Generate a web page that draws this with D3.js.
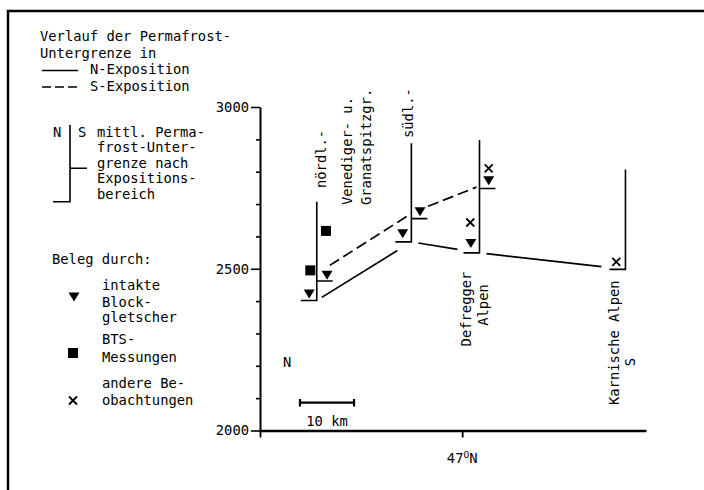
<!DOCTYPE html>
<html lang="de">
<head>
<meta charset="UTF-8">
<title>Verlauf der Permafrost-Untergrenze</title>
<script src="https://cdn.jsdelivr.net/npm/d3@7.8.5/dist/d3.min.js"></script>
<style>
  body { margin: 0; background: #fff; }
  svg { display: block; }
  text { font-family: "DejaVu Sans Mono", monospace; font-size: 13.8px; fill: #000; }
</style>
</head>
<body>
<svg id="chart" width="704" height="490"></svg>
<script>
// x = distance from 47°N in km (positive = south), y = elevation in m
const yMajor = [2000, 2500, 3000];
const yMinor = [2100, 2200, 2300, 2400, 2600, 2700, 2800, 2900];

// profiles (N | S brackets)
const profileKm   = [-26.9, -9.4, 3.2, 30.2];
const profileTop  = [2707, 2888, 2898, 2807];
const limitN      = [2402, 2583, 2549, 2498];
const limitS      = [2462, 2655, 2748, null];

// lower limit lines
const lineNKm   = [-26.9, -9.4, 3.2, 30.2];
const lineNElev = [2402, 2583, 2549, 2498];
const lineSKm   = [-26.9, -8.9, 3.2];
const lineSElev = [2485, 2676, 2756];

// evidence
const rockKm   = [-28.3, -25.0, -11.0, -7.8, 1.6, 4.9];
const rockElev = [2422, 2480, 2608, 2676, 2578, 2772];
const btsKm    = [-28.1, -25.2];
const btsElev  = [2495, 2617];
const otherKm   = [1.5, 4.9, 28.5];
const otherElev = [2643, 2810, 2521];

const svg = d3.select("#chart");
const x = d3.scaleLinear().domain([-37.4, 34]).range([260, 646]);
const y = d3.scaleLinear().domain([2000, 3000]).range([430.5, 107]);

// frame
svg.append("path").attr("d", "M8,492V11H706")
  .attr("fill", "none").attr("stroke", "#000").attr("stroke-width", 2.5);

// legend text
function lines(x0, ys, strs) {
  strs.forEach((s, i) => svg.append("text").attr("x", x0).attr("y", ys[i]).text(s));
}
lines(40, [41, 57.5], ["Verlauf der Permafrost-", "Untergrenze in"]);
lines(90, [74, 90.5], ["N-Exposition", "S-Exposition"]);
svg.append("line").attr("x1", 42).attr("x2", 78).attr("y1", 70.5).attr("y2", 70.5)
  .attr("stroke", "#000").attr("stroke-width", 1.6);
svg.append("line").attr("x1", 42).attr("x2", 80).attr("y1", 87).attr("y2", 87)
  .attr("stroke", "#000").attr("stroke-width", 1.6).attr("stroke-dasharray", "9,4");

svg.append("text").attr("x", 53).attr("y", 136.5).text("N");
svg.append("text").attr("x", 78).attr("y", 136.5).text("S");
svg.append("path").attr("d", "M53,201.7H70V125M70,168.3H87")
  .attr("fill", "none").attr("stroke", "#000").attr("stroke-width", 1.6);
lines(97, [136.5, 152, 167.7, 183.3, 199],
  ["mittl. Perma-", "frost-Unter-", "grenze nach", "Expositions-", "bereich"]);

lines(52, [264], ["Beleg durch:"]);
lines(102, [290, 306.5, 322], ["intakte", "Block-", "gletscher"]);
lines(102, [344, 361.5], ["BTS-", "Messungen"]);
lines(102, [388, 404.5], ["andere Be-", "obachtungen"]);

const tri = "M-5.5,-4.5L5.5,-4.5L0,4.5Z";
svg.append("path").attr("d", tri).attr("transform", "translate(74,297)");
svg.append("rect").attr("x", 68).attr("y", 348).attr("width", 10).attr("height", 10);
function cross(g, cx, cy) {
  g.append("path").attr("d", `M${cx-4},${cy-4}L${cx+4},${cy+4}M${cx+4},${cy-4}L${cx-4},${cy+4}`)
    .attr("stroke", "#000").attr("stroke-width", 1.8);
}
cross(svg, 73, 400.5);

// axes
const yAxis = svg.append("g").attr("transform", "translate(260,0)")
  .call(d3.axisLeft(y).tickValues(yMajor).tickSize(9).tickSizeOuter(0).tickPadding(2).tickFormat(d3.format("d")));
svg.append("g").attr("transform", "translate(260,0)")
  .call(d3.axisLeft(y).tickValues(yMinor).tickSize(4).tickSizeOuter(0).tickFormat(""))
  .select(".domain").remove();
yAxis.select(".domain").attr("stroke-width", 2);
svg.selectAll(".tick line").attr("stroke-width", 1.6);

const xAxis = svg.append("g").attr("transform", "translate(0,430.5)")
  .call(d3.axisBottom(x).tickValues([x.domain()[0], 0]).tickSize(7).tickSizeOuter(0).tickFormat(""));
xAxis.select(".domain").attr("stroke-width", 2.5);
xAxis.selectAll(".tick line").attr("stroke-width", 1.8);

const lat = svg.append("text").attr("x", x(0)).attr("y", 463).attr("text-anchor", "middle");
lat.append("tspan").text("47");
lat.append("tspan").attr("dy", -5.5).style("font-size", "9.5px").text("O");
lat.append("tspan").attr("dy", 5.5).text("N");

// scale bar 10 km
const sb = svg.append("g").attr("stroke", "#000").attr("stroke-width", 2.2);
sb.append("line").attr("x1", x(-30)).attr("x2", x(-20)).attr("y1", 402.7).attr("y2", 402.7);
[-30, -20].forEach(k => sb.append("line").attr("x1", x(k)).attr("x2", x(k)).attr("y1", 399).attr("y2", 406.5));
svg.append("text").attr("x", x(-25)).attr("y", 425.7).attr("text-anchor", "middle").text("10 km");

svg.append("text").attr("x", 283).attr("y", 367).text("N");

// limit lines (trimmed near brackets)
function trimmedLine(kms, elevs, trims, dash) {
  for (let i = 0; i < kms.length - 1; i++) {
    const x0 = x(kms[i]), y0 = y(elevs[i]), x1 = x(kms[i + 1]), y1 = y(elevs[i + 1]);
    const s = (y1 - y0) / (x1 - x0);
    const a = x0 + trims[i][0], b = x1 - trims[i][1];
    svg.append("line").attr("x1", a).attr("y1", y0 + s * (a - x0))
      .attr("x2", b).attr("y2", y0 + s * (b - x0))
      .attr("stroke", "#000").attr("stroke-width", 1.7)
      .attr("stroke-dasharray", dash);
  }
}
trimmedLine(lineNKm, lineNElev, [[5, 14], [7, 22], [7, 24]], null);
trimmedLine(lineSKm, lineSElev, [[13, 7], [14, 3]], "11,5");

// profile brackets
const br = svg.append("g").attr("fill", "none").attr("stroke", "#000").attr("stroke-width", 1.6);
profileKm.forEach((k, i) => {
  const px = x(k);
  let d = `M${px - 16},${y(limitN[i])}H${px}V${y(profileTop[i])}`;
  if (limitS[i] != null) d += `M${px},${y(limitS[i])}H${px + 16}`;
  br.append("path").attr("d", d);
});

// markers
rockKm.forEach((k, i) => svg.append("path").attr("d", tri)
  .attr("transform", `translate(${x(k)},${y(rockElev[i])})`));
btsKm.forEach((k, i) => svg.append("rect")
  .attr("x", x(k) - 5).attr("y", y(btsElev[i]) - 5).attr("width", 10).attr("height", 10));
otherKm.forEach((k, i) => cross(svg, x(k), y(otherElev[i])));

// rotated region labels
function vtext(bx, by, s, anchor) {
  svg.append("text").attr("transform", `translate(${bx},${by}) rotate(-90)`)
    .attr("text-anchor", anchor || "start").text(s);
}
vtext(x(profileKm[0]) + 9.5, 188, "nördl.-");
vtext(x(profileKm[0]) + 35.5, 205, "Venediger- u.");
vtext(x(profileKm[0]) + 54, 205, "Granatspitzgr.");
vtext(x(profileKm[1]) + 2, 138, "südl.-");
vtext(x(profileKm[2]) - 8.5, 309, "Defregger", "middle");
vtext(x(profileKm[2]) + 9, 305, "Alpen", "middle");
vtext(x(profileKm[3]) - 6, 405, "Karnische Alpen");
vtext(x(profileKm[3]) + 10, 362, "S", "middle");
</script>
</body>
</html>
